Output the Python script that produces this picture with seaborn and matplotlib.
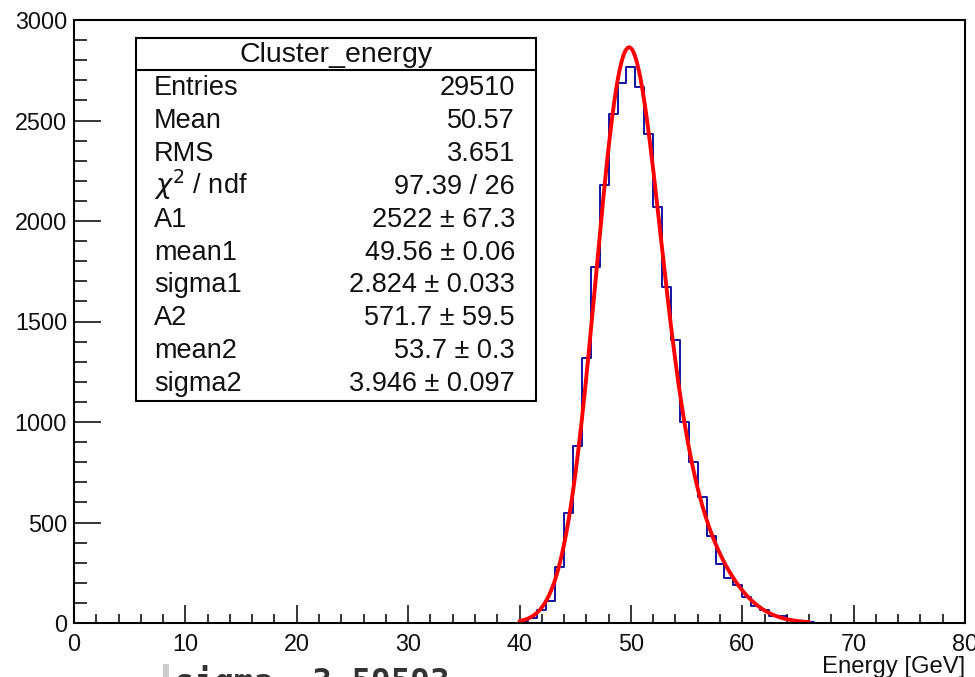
import numpy as np
import pandas as pd
import matplotlib
matplotlib.use("Agg")
import matplotlib.pyplot as plt
import seaborn as sns
from matplotlib.patches import Rectangle
from matplotlib.lines import Line2D
from matplotlib.ticker import MultipleLocator

# ---------------- data ----------------
x_range = (0.0, 80.0)
bin_width = 0.8
bin_start = 40.0
bin_counts = [10, 23, 65, 111, 277, 549, 882, 1320, 1773, 2179, 2531, 2688,
              2768, 2665, 2434, 2068, 1670, 1408, 1001, 803, 628, 434, 292,
              222, 189, 131, 85, 65, 35, 33, 15, 12, 7]

x_ticks = [0, 10, 20, 30, 40, 50, 60, 70, 80]
y_ticks = [0, 500, 1000, 1500, 2000, 2500, 3000]

fit_A1, fit_mean1, fit_sigma1 = 2522.0, 49.56, 2.824
fit_A2, fit_mean2, fit_sigma2 = 571.7, 53.7, 3.946
fit_range = (40.0, 66.0)

stats_title = "Cluster_energy"
stats_labels = ["Entries", "Mean", "RMS", r"$\chi^{2}$ / ndf", "A1", "mean1",
                "sigma1", "A2", "mean2", "sigma2"]
stats_values = ["29510", "50.57", "3.651", "97.39 / 26", "2522 \u00b1 67.3",
                "49.56 \u00b1 0.06", "2.824 \u00b1 0.033", "571.7 \u00b1 59.5",
                "53.7 \u00b1 0.3", "3.946 \u00b1 0.097"]

x_title = "Energy [GeV]"
bottom_note = "sigma= 3.59593"

# ---------------- style ----------------
sns.set_theme(style="ticks")
plt.rcParams['font.family'] = ['Liberation Sans', 'DejaVu Sans']
plt.rcParams['mathtext.fontset'] = 'dejavusans'

W, H = 975, 677
fig = plt.figure(figsize=(W / 100, H / 100), dpi=100)
fig.patch.set_facecolor("white")


def fx(px):
    return px / W


def fy(py):
    return 1 - py / H


ax = fig.add_axes([fx(74), fy(623), (965 - 74) / W, (623 - 20) / H])
ax.set_facecolor("white")

# histogram
n_bins = int(round((x_range[1] - x_range[0]) / bin_width))
edges = x_range[0] + bin_width * np.arange(n_bins + 1)
all_counts = np.zeros(n_bins)
i0 = int(round((bin_start - x_range[0]) / bin_width))
all_counts[i0:i0 + len(bin_counts)] = bin_counts
centers = 0.5 * (edges[:-1] + edges[1:])
df = pd.DataFrame({"energy": centers, "count": all_counts})
sns.histplot(data=df, x="energy", weights="count", binwidth=bin_width,
             binrange=x_range, element="step", fill=False, color="#000099",
             linewidth=1.3, ax=ax)

# fit curve (double gaussian with the displayed fit parameters)
xf = np.linspace(fit_range[0], fit_range[1], 500)
yf = (fit_A1 * np.exp(-0.5 * ((xf - fit_mean1) / fit_sigma1) ** 2)
      + fit_A2 * np.exp(-0.5 * ((xf - fit_mean2) / fit_sigma2) ** 2))
sns.lineplot(x=xf, y=yf, color="#ff0000", linewidth=2.8, ax=ax, sort=False)

ax.set_xlim(*x_range)
ax.set_ylim(0, 3000)
ax.set_xticks(x_ticks)
ax.set_yticks(y_ticks)
ax.xaxis.set_minor_locator(MultipleLocator(2))
ax.yaxis.set_minor_locator(MultipleLocator(100))
ax.set_xlabel("")
ax.set_ylabel("")

for s in ax.spines.values():
    s.set_visible(True)
    s.set_linewidth(1.5)
    s.set_color("black")

ax.tick_params(which="both", direction="in", bottom=True, left=True,
               top=False, right=False, color="black", width=1.1)
ax.tick_params(axis="x", which="major", length=13, pad=7, labelsize=16.8,
               labelcolor="#111111")
ax.tick_params(axis="x", which="minor", length=6.5)
ax.tick_params(axis="y", which="major", length=19.2, pad=5, labelsize=16.8,
               labelcolor="#111111")
ax.tick_params(axis="y", which="minor", length=9.6)

# x-axis title
fig.text(fx(965), fy(673), x_title, ha="right", va="baseline", fontsize=17.2,
         color="#111111")

# stats box
box = Rectangle((fx(136), fy(401)), 400 / W, 363 / H, transform=fig.transFigure,
                facecolor="white", edgecolor="black", linewidth=1.5, zorder=5)
fig.add_artist(box)
fig.add_artist(Line2D([fx(136), fx(536)], [fy(70), fy(70)], transform=fig.transFigure,
                      color="black", linewidth=1.5, zorder=6))
fig.text(fx(336), fy(62), stats_title, ha="center", va="baseline", fontsize=20.5,
         color="#111111", zorder=7)
for i, (lab, val) in enumerate(zip(stats_labels, stats_values)):
    yb = 95 + 32.9 * i
    fig.text(fx(154), fy(yb), lab, ha="left", va="baseline", fontsize=19.5,
             color="#111111", zorder=7)
    fig.text(fx(515), fy(yb), val, ha="right", va="baseline", fontsize=19.5,
             color="#111111", zorder=7)

# cut-off note at the bottom
fig.add_artist(Rectangle((fx(163), 0), 6 / W, 13 / H, transform=fig.transFigure,
                         facecolor="#cccccc", edgecolor="none"))
fig.text(fx(175), fy(693), bottom_note, ha="left", va="baseline",
         family="DejaVu Sans Mono", weight="bold", fontsize=23.5, color="#333333")

fig.savefig("out.png", dpi=100)
